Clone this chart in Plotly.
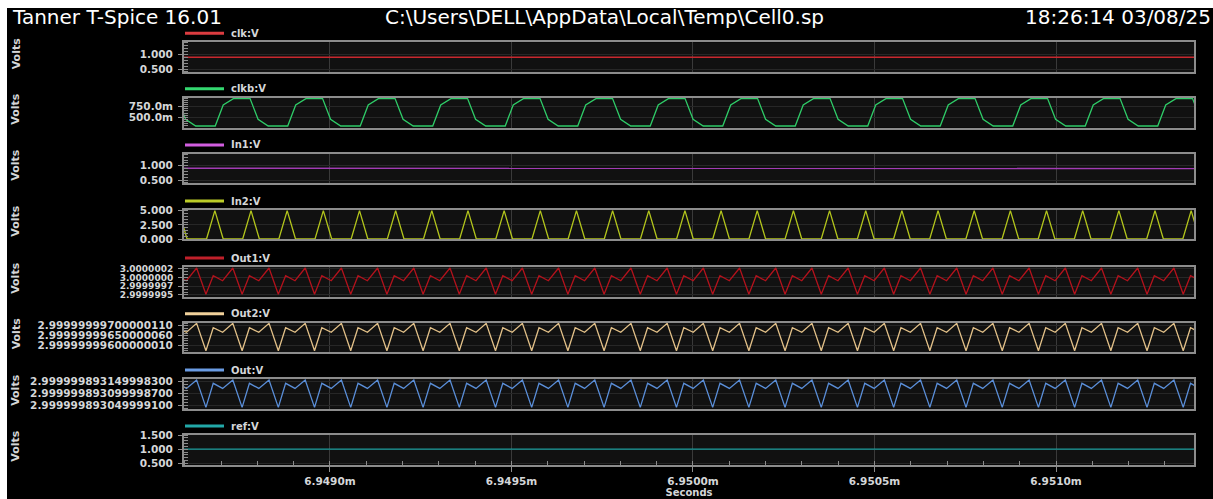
import plotly.graph_objects as go

W, H = 1213, 499

# ---------------- data ----------------
x_tick_vals = [6.9490, 6.9495, 6.9500, 6.9505, 6.9510]
x_tick_text = ["6.9490m", "6.9495m", "6.9500m", "6.9505m", "6.9510m"]
x_range = [6.948598, 6.951380]

clk_t = [6.948590, 6.951390]
clk_v = [0.900, 0.900]

in1_t = [6.948590, 6.949468, 6.949470, 6.950543, 6.950545, 6.951390]
in1_v = [0.912, 0.912, 0.906, 0.906, 0.900, 0.900]

ref_t = [6.948590, 6.951390]
ref_v = [1.000, 1.000]

clkb_period = 0.0001997
clkb_first_rise = 6.948684
clkb_cycle_off = [0.0, 0.000022, 0.000050, 0.000096, 0.000118, 0.000146]
clkb_cycle_v = [0.295, 0.790, 0.940, 0.940, 0.453, 0.295]

in2_period = 0.0000996
in2_first_peak = 6.948683
in2_cycle_off = [-0.000023, 0.0, 0.000023]
in2_cycle_v = [0.0, 5.0, 0.0]

out_period = 0.0000997
out_first_peak = 6.9486328
out_cycle_off = [0.0, 0.0000256, 0.0000457, 0.0000716]
out1_cycle_v = [3.00000023, 2.99999951, 3.00000002, 2.99999988]
out2_cycle_v = [2.99999999712, 2.99999999575, 2.99999999690, 2.99999999667]
outv_cycle_v = [2.999999893157, 2.999999893043, 2.9999998931433, 2.999999893122]

# y tick labels
clk_ticks, clk_tick_text = [0.5, 1.0], ["0.500", "1.000"]
clkb_ticks, clkb_tick_text = [0.5, 0.75], ["500.0m", "750.0m"]
in1_ticks, in1_tick_text = [0.5, 1.0], ["0.500", "1.000"]
in2_ticks, in2_tick_text = [0.0, 2.5, 5.0], ["0.000", "2.500", "5.000"]
out1_ticks = [3.00000021, 2.99999997, 2.99999973, 2.99999949]
out1_tick_text = ["3.0000002", "3.0000000", "2.9999997", "2.9999995"]
out2_ticks = [2.999999997, 2.9999999965, 2.999999996]
out2_tick_text = ["2.99999999700000110", "2.99999999650000060", "2.99999999600000010"]
outv_ticks = [2.9999998931499983, 2.9999998930999987, 2.9999998930499991]
outv_tick_text = ["2.999999893149998300", "2.999999893099998700", "2.999999893049999100"]
ref_ticks, ref_tick_text = [0.5, 1.0, 1.5], ["0.500", "1.000", "1.500"]


def build_cycles(first, period, offs, vals):
    t, v = [], []
    k = -1
    while first + k * period + offs[0] <= x_range[1] + period:
        start = first + k * period
        for o, y in zip(offs, vals):
            t.append(start + o)
            v.append(y)
        k += 1
    return t, v


clkb_t, clkb_v = build_cycles(clkb_first_rise, clkb_period, clkb_cycle_off, clkb_cycle_v)
in2_t, in2_v = build_cycles(in2_first_peak, in2_period, in2_cycle_off, in2_cycle_v)
out1_t, out1_v = build_cycles(out_first_peak, out_period, out_cycle_off, out1_cycle_v)
out2_t, out2_v = build_cycles(out_first_peak, out_period, out_cycle_off, out2_cycle_v)
outv_t, outv_v = build_cycles(out_first_peak, out_period, out_cycle_off, outv_cycle_v)

# ---------------- styling / layout ----------------
GRAY = "#8c8c8c"
TXT = "#d4d6d8"
FONT = "DejaVu Sans"

panels = [
    dict(name="clk:V", t=clk_t, v=clk_v, color="#c8282e", lcolor="#dc3c40", rng=[0.388, 1.41],
         tv=clk_ticks, tt=clk_tick_text, fs=10.5, m0=0.0, md=0.1, top=42.3, bot=72.3),
    dict(name="clkb:V", t=clkb_t, v=clkb_v, color="#2fcc68", lcolor="#34d870", rng=[0.255, 0.962],
         tv=clkb_ticks, tt=clkb_tick_text, fs=10.5, m0=0.0, md=0.05, top=97.7, bot=127.7),
    dict(name="In1:V", t=in1_t, v=in1_v, color="#a23cb4", lcolor="#d25ee0", rng=[0.385, 1.41],
         tv=in1_ticks, tt=in1_tick_text, fs=10.5, m0=0.0, md=0.1, top=154.0, bot=183.3),
    dict(name="In2:V", t=in2_t, v=in2_v, color="#b2c41c", lcolor="#bccc28", rng=[-0.05, 5.12],
         tv=in2_ticks, tt=in2_tick_text, fs=10.5, m0=0.0, md=0.5, top=210.0, bot=239.3),
    dict(name="Out1:V", t=out1_t, v=out1_v, color="#b3121c", lcolor="#c0202a", rng=[2.999999443, 3.000000257],
         tv=out1_ticks, tt=out1_tick_text, fs=9, m0=2.99999949, md=8e-8, top=267.0, bot=296.7),
    dict(name="Out2:V", t=out2_t, v=out2_v, color="#e2c088", lcolor="#f0d09a", rng=[2.999999995685, 2.99999999715],
         tv=out2_ticks, tt=out2_tick_text, fs=10.5, m0=2.999999996, md=1.25e-10, top=322.7, bot=352.0),
    dict(name="Out:V", t=outv_t, v=outv_v, color="#5a8ed8", lcolor="#6a9ce4", rng=[2.9999998930375, 2.99999989316125],
         tv=outv_ticks, tt=outv_tick_text, fs=10.5, m0=2.99999989305, md=1.25e-11, top=379.0, bot=408.7),
    dict(name="ref:V", t=ref_t, v=ref_v, color="#1a9c9c", lcolor="#22a8a8", rng=[0.455, 1.505],
         tv=ref_ticks, tt=ref_tick_text, fs=10.5, m0=0.0, md=0.1, top=435.0, bot=464.5),
]

fig = go.Figure()
layout = dict(
    width=W, height=H,
    margin=dict(l=0, r=0, t=0, b=0),
    paper_bgcolor="#000000",
    plot_bgcolor="#111111",
    font=dict(family=FONT, color=TXT, size=10, weight="bold"),
    showlegend=False,
)
shapes = []
annotations = []

xdom = [184 / W, 1194 / W]
n_p = len(panels)
for i, p in enumerate(panels):
    n = i + 1
    sfx = "" if n == 1 else str(n)
    fig.add_trace(go.Scatter(
        x=p["t"], y=p["v"], mode="lines", name=p["name"],
        line=dict(color=p["color"], width=1.3),
        xaxis="x" + sfx, yaxis="y" + sfx, showlegend=False,
    ))
    last = (n == n_p)
    xa = dict(
        domain=xdom, range=x_range, anchor="y" + sfx,
        tickmode="array", tickvals=x_tick_vals, ticktext=x_tick_text,
        showgrid=True, gridcolor="#3a3a3a", gridwidth=1,
        showline=True, mirror=True, linecolor=GRAY, linewidth=2,
        zeroline=False, automargin=False,
        showticklabels=last,
    )
    if last:
        xa.update(
            ticks="outside", ticklen=5, tickcolor=GRAY, tickwidth=1,
            ticklabelstandoff=1,
            tickfont=dict(family=FONT, size=10.5, color=TXT, weight="bold"),
            minor=dict(tickmode="linear", tick0=6.9490, dtick=0.0001, ticks="inside",
                       ticklen=4, tickcolor=GRAY, showgrid=False),
            title=dict(text="Seconds", standoff=3,
                       font=dict(family=FONT, size=10, color=TXT, weight="bold")),
        )
    else:
        xa.update(ticks="")
    layout["xaxis" + sfx] = xa

    ya = dict(
        domain=[1 - p["bot"] / H, 1 - p["top"] / H], range=p["rng"], anchor="x" + sfx,
        tickmode="array", tickvals=p["tv"], ticktext=p["tt"],
        ticks="outside", ticklen=4, tickcolor=GRAY, tickwidth=1,
        ticklabelstandoff=3,
        tickfont=dict(family=FONT, size=p["fs"], color=TXT, weight="bold"),
        showgrid=True, gridcolor="#272727", gridwidth=1,
        showline=True, mirror=True, linecolor=GRAY, linewidth=2,
        zeroline=False, automargin=False,
        minor=dict(tickmode="linear", tick0=p["m0"], dtick=p["md"], ticks="inside",
                   ticklen=4, tickcolor=GRAY, showgrid=False),
    )
    layout["yaxis" + sfx] = ya

    # legend sample (line + name) above each panel
    ly = 1 - (p["top"] - 9) / H
    shapes.append(dict(type="line", xref="paper", yref="paper",
                       x0=185 / W, x1=224 / W, y0=ly, y1=ly,
                       line=dict(color=p["lcolor"], width=3)))
    annotations.append(dict(text=p["name"], xref="paper", yref="paper",
                            x=229 / W, y=ly, xanchor="left", yanchor="middle",
                            showarrow=False,
                            font=dict(family=FONT, size=10, color=TXT, weight="bold")))
    # "Volts" label
    cy = (p["top"] + p["bot"]) / 2 - 3
    annotations.append(dict(text="Volts", xref="paper", yref="paper",
                            x=16 / W, y=1 - cy / H, xanchor="center", yanchor="middle",
                            textangle=-90, showarrow=False,
                            font=dict(family=FONT, size=11, color=TXT, weight="bold")))

# header texts
hy = 1 - 17.5 / H
HFONT = dict(family=FONT, size=20, color="#ffffff", weight="normal")
annotations.append(dict(text="Tanner T-Spice 16.01", xref="paper", yref="paper",
                        x=10 / W, y=hy, xanchor="left", yanchor="middle", showarrow=False,
                        font=HFONT))
annotations.append(dict(text="C:\\Users\\DELL\\AppData\\Local\\Temp\\Cell0.sp", xref="paper", yref="paper",
                        x=383 / W, y=hy, xanchor="left", yanchor="middle", showarrow=False,
                        font=HFONT))
annotations.append(dict(text="18:26:14 03/08/25", xref="paper", yref="paper",
                        x=1213 / W, y=hy, xanchor="right", yanchor="middle", showarrow=False,
                        font=HFONT))

# white page border strips (top and left) as in the screenshot
shapes.append(dict(type="rect", xref="paper", yref="paper", x0=0, x1=7 / W, y0=0, y1=1,
                   fillcolor="#ffffff", line=dict(width=0), layer="above"))
shapes.append(dict(type="rect", xref="paper", yref="paper", x0=0, x1=1, y0=1 - 8 / H, y1=1,
                   fillcolor="#ffffff", line=dict(width=0), layer="above"))

layout["shapes"] = shapes
layout["annotations"] = annotations
fig.update_layout(**layout)

fig.write_html("out.html")
